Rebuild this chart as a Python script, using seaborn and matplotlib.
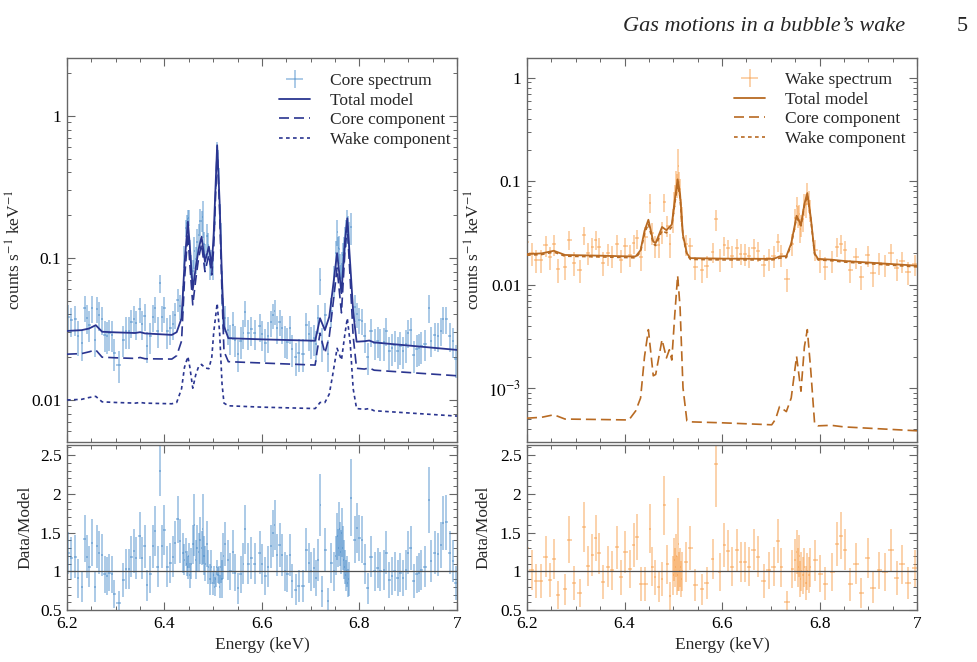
import numpy as np
import matplotlib
matplotlib.use("Agg")
import matplotlib.pyplot as plt
from matplotlib.lines import Line2D
from matplotlib.ticker import MultipleLocator, FixedLocator, FuncFormatter, LogLocator, NullFormatter
import seaborn as sns

# ---------------- Core (left) model curves ----------------
core_model_E = [6.200, 6.230, 6.245, 6.259, 6.272, 6.300, 6.340, 6.350, 6.360, 6.415,
                6.425, 6.435, 6.441, 6.448, 6.452, 6.458, 6.464, 6.470, 6.476, 6.483,
                6.491, 6.497, 6.501, 6.508, 6.513, 6.518, 6.522, 6.531, 6.600, 6.709,
                6.713, 6.719, 6.729, 6.738, 6.745, 6.754, 6.763, 6.770, 6.775, 6.781,
                6.787, 6.794, 6.810, 6.820, 6.830, 7.000]
core_total = [0.0306, 0.0310, 0.0318, 0.0336, 0.0302, 0.0299, 0.0296, 0.0300, 0.0294, 0.0287,
              0.0300, 0.0376, 0.0900, 0.180, 0.120, 0.0596, 0.085, 0.115, 0.141, 0.094,
              0.120, 0.087, 0.150, 0.620, 0.250, 0.070, 0.0330, 0.0272, 0.0267, 0.0261,
              0.0300, 0.0376, 0.0310, 0.0385, 0.060, 0.108, 0.0564, 0.130, 0.190, 0.090,
              0.0420, 0.0257, 0.0259, 0.0262, 0.0254, 0.0225]
core_corecomp = [0.0210, 0.0212, 0.0218, 0.0225, 0.0200, 0.0198, 0.0196, 0.0199, 0.0195, 0.0194,
                 0.0205, 0.0260, 0.070, 0.149, 0.090, 0.0467, 0.070, 0.100, 0.125, 0.080,
                 0.105, 0.076, 0.120, 0.570, 0.220, 0.055, 0.0220, 0.0186, 0.0182, 0.0176,
                 0.0220, 0.0295, 0.0213, 0.0280, 0.045, 0.085, 0.0410, 0.110, 0.168, 0.070,
                 0.0280, 0.0167, 0.0165, 0.0168, 0.0162, 0.0148]
core_wakecomp = [0.0100, 0.0101, 0.0104, 0.0106, 0.0097, 0.0096, 0.0095, 0.0096, 0.0095, 0.0094,
                 0.0096, 0.0120, 0.0170, 0.0202, 0.0170, 0.0121, 0.0150, 0.0172, 0.0178, 0.0168,
                 0.0166, 0.0200, 0.0300, 0.0478, 0.0300, 0.0130, 0.0095, 0.0091, 0.0089, 0.0087,
                 0.0090, 0.0096, 0.0096, 0.0110, 0.0150, 0.0231, 0.0191, 0.0290, 0.0376, 0.0250,
                 0.0120, 0.0087, 0.0086, 0.0087, 0.0084, 0.0077]

# ---------------- Core (left) spectrum data ----------------
core_E = [6.203, 6.209, 6.217, 6.222, 6.231, 6.236, 6.241, 6.246, 6.251, 6.257,
          6.261, 6.266, 6.272, 6.277, 6.282, 6.287, 6.292, 6.297, 6.306, 6.315,
          6.321, 6.327, 6.332, 6.337, 6.342, 6.349, 6.354, 6.359, 6.364, 6.371,
          6.376, 6.381, 6.386, 6.391, 6.395, 6.400, 6.406, 6.412, 6.417, 6.422,
          6.427, 6.432, 6.437, 6.441, 6.444, 6.446, 6.448, 6.450, 6.452, 6.455,
          6.458, 6.461, 6.464, 6.467, 6.470, 6.473, 6.476, 6.478, 6.481, 6.484,
          6.487, 6.490, 6.493, 6.496, 6.499, 6.501, 6.503, 6.505, 6.507, 6.509,
          6.511, 6.513, 6.515, 6.518, 6.521, 6.525, 6.530, 6.535, 6.540, 6.545,
          6.551, 6.556, 6.562, 6.566, 6.572, 6.578, 6.585, 6.595, 6.600, 6.607,
          6.612, 6.618, 6.623, 6.626, 6.631, 6.636, 6.641, 6.647, 6.652, 6.657,
          6.662, 6.669, 6.675, 6.684, 6.691, 6.696, 6.701, 6.706, 6.710, 6.715,
          6.720, 6.724, 6.730, 6.735, 6.742, 6.748, 6.751, 6.754, 6.756, 6.758,
          6.760, 6.762, 6.764, 6.766, 6.768, 6.770, 6.772, 6.774, 6.776, 6.778,
          6.782, 6.790, 6.795, 6.800, 6.805, 6.811, 6.817, 6.824, 6.831, 6.837,
          6.843, 6.850, 6.855, 6.861, 6.867, 6.872, 6.878, 6.884, 6.889, 6.895,
          6.900, 6.905, 6.911, 6.917, 6.922, 6.927, 6.934, 6.942, 6.947, 6.954,
          6.961, 6.967, 6.971, 6.978, 6.985, 6.992, 6.997]
core_spec = [0.0384, 0.0363, 0.0369, 0.0282, 0.0250, 0.0447, 0.0378, 0.0339, 0.0445, 0.0266,
             0.0440, 0.0397, 0.0369, 0.0288, 0.0282, 0.0294, 0.0288, 0.0213, 0.0176, 0.0265,
             0.0307, 0.0306, 0.0353, 0.0373, 0.0346, 0.0435, 0.0345, 0.0388, 0.0240, 0.0280,
             0.0384, 0.0441, 0.0307, 0.0665, 0.0381, 0.0441, 0.0305, 0.0319, 0.0342, 0.0397,
             0.0509, 0.0459, 0.0521, 0.1035, 0.1625, 0.176, 0.189, 0.192, 0.114, 0.088,
             0.081, 0.112, 0.098, 0.130, 0.144, 0.182, 0.182, 0.194, 0.126, 0.1045,
             0.142, 0.124, 0.090, 0.0945, 0.085, 0.152, 0.200, 0.342, 0.600, 0.520,
             0.380, 0.200, 0.147, 0.063, 0.042, 0.0378, 0.0313, 0.0272, 0.0339, 0.0266,
             0.0211, 0.0259, 0.0297, 0.0414, 0.0296, 0.0314, 0.0295, 0.0331, 0.0291, 0.0250,
             0.0282, 0.0351, 0.0396, 0.0424, 0.0321, 0.0355, 0.0321, 0.0264, 0.0256, 0.0319,
             0.0229, 0.0200, 0.0213, 0.0212, 0.0335, 0.0291, 0.0261, 0.0271, 0.0246, 0.0380,
             0.0696, 0.0252, 0.0397, 0.0211, 0.0422, 0.070, 0.108, 0.152, 0.117, 0.116,
             0.0878, 0.0725, 0.090, 0.104, 0.115, 0.1365, 0.152, 0.180, 0.1615, 0.144,
             0.166, 0.0451, 0.0401, 0.0368, 0.0362, 0.0280, 0.0200, 0.0305, 0.0253, 0.0262,
             0.0251, 0.0254, 0.0308, 0.0220, 0.0231, 0.0245, 0.0222, 0.0238, 0.0220, 0.0246,
             0.0298, 0.0311, 0.0207, 0.0228, 0.0231, 0.0240, 0.0248, 0.0447, 0.0262, 0.0286,
             0.0281, 0.0307, 0.0371, 0.0372, 0.0283, 0.0258, 0.0194]
core_ratio = [1.24, 1.17, 1.19, 0.91, 0.80, 1.42, 1.19, 1.06, 1.37, 0.80,
              1.32, 1.24, 1.21, 0.96, 0.94, 0.98, 0.96, 0.71, 0.59, 0.89,
              1.03, 1.03, 1.19, 1.26, 1.17, 1.46, 1.17, 1.32, 0.82, 0.96,
              1.32, 1.52, 1.06, 2.30, 1.32, 1.53, 1.06, 1.11, 1.19, 1.37,
              1.67, 1.39, 1.24, 1.15, 1.25, 1.10, 1.05, 1.20, 0.95, 1.10,
              1.35, 1.60, 1.15, 1.30, 1.25, 1.40, 1.30, 1.55, 1.20, 1.10,
              1.35, 1.05, 0.90, 1.05, 0.85, 0.95, 0.80, 0.90, 1.05, 0.95,
              0.95, 0.80, 1.05, 0.90, 1.20, 1.35, 1.15, 1.00, 1.25, 0.98,
              0.78, 0.96, 1.10, 1.54, 1.10, 1.17, 1.10, 1.24, 1.09, 0.94,
              1.06, 1.32, 1.49, 1.60, 1.21, 1.34, 1.21, 1.00, 0.97, 1.21,
              0.87, 0.76, 0.81, 0.81, 1.28, 1.11, 1.00, 1.04, 0.91, 1.15,
              1.85, 0.74, 1.28, 0.62, 1.11, 1.00, 1.20, 1.45, 1.30, 1.55,
              1.35, 1.25, 1.50, 1.30, 1.15, 1.05, 0.95, 1.00, 0.85, 0.90,
              1.95, 1.41, 1.56, 1.43, 1.41, 1.09, 0.78, 1.19, 1.00, 1.04,
              1.00, 1.02, 1.24, 0.89, 0.94, 1.00, 0.91, 0.98, 0.91, 1.02,
              1.24, 1.30, 0.87, 0.96, 0.98, 1.02, 1.06, 1.92, 1.13, 1.24,
              1.22, 1.34, 1.62, 1.63, 1.24, 1.13, 0.85]
core_ratio_err = [0.27, 0.27, 0.28, 0.25, 0.20, 0.30, 0.28, 0.26, 0.30, 0.20,
                  0.28, 0.28, 0.27, 0.24, 0.24, 0.24, 0.24, 0.18, 0.15, 0.22,
                  0.26, 0.26, 0.27, 0.28, 0.27, 0.30, 0.27, 0.28, 0.20, 0.24,
                  0.28, 0.32, 0.26, 0.33, 0.28, 0.32, 0.26, 0.26, 0.27, 0.28,
                  0.30, 0.28, 0.26, 0.20, 0.18, 0.16, 0.15, 0.16, 0.16, 0.20,
                  0.25, 0.40, 0.25, 0.30, 0.25, 0.30, 0.22, 0.45, 0.25, 0.22,
                  0.30, 0.22, 0.20, 0.22, 0.15, 0.12, 0.12, 0.10, 0.10, 0.10,
                  0.12, 0.15, 0.20, 0.25, 0.30, 0.28, 0.26, 0.24, 0.28, 0.24,
                  0.20, 0.24, 0.26, 0.32, 0.26, 0.27, 0.26, 0.28, 0.26, 0.24,
                  0.26, 0.28, 0.30, 0.32, 0.27, 0.28, 0.27, 0.25, 0.24, 0.27,
                  0.22, 0.20, 0.21, 0.21, 0.28, 0.26, 0.25, 0.26, 0.23, 0.27,
                  0.40, 0.20, 0.28, 0.16, 0.26, 0.25, 0.25, 0.30, 0.25, 0.35,
                  0.28, 0.28, 0.32, 0.28, 0.25, 0.22, 0.20, 0.20, 0.18, 0.22,
                  0.50, 0.30, 0.32, 0.30, 0.30, 0.26, 0.20, 0.27, 0.25, 0.26,
                  0.25, 0.26, 0.28, 0.23, 0.24, 0.25, 0.23, 0.25, 0.23, 0.26,
                  0.28, 0.29, 0.22, 0.24, 0.25, 0.26, 0.26, 0.42, 0.27, 0.28,
                  0.28, 0.30, 0.35, 0.35, 0.28, 0.27, 0.22]

# ---------------- Wake (right) model curves ----------------
wake_model_E = [6.200, 6.230, 6.255, 6.278, 6.350, 6.409, 6.423, 6.433, 6.441, 6.449,
                6.459, 6.464, 6.477, 6.486, 6.492, 6.497, 6.503, 6.509, 6.514, 6.520,
                6.528, 6.535, 6.600, 6.702, 6.710, 6.718, 6.732, 6.742, 6.753, 6.762,
                6.769, 6.775, 6.782, 6.790, 6.797, 6.824, 6.850, 7.000]
wake_total = [0.0197, 0.0200, 0.0212, 0.0193, 0.0190, 0.0187, 0.0187, 0.0215, 0.0330, 0.0423,
              0.0260, 0.0252, 0.0360, 0.0335, 0.0360, 0.0380, 0.0650, 0.1040, 0.0750, 0.0300,
              0.0200, 0.0180, 0.0178, 0.0177, 0.0180, 0.0187, 0.0188, 0.0250, 0.0462, 0.0378,
              0.0600, 0.0765, 0.0450, 0.0200, 0.0177, 0.0174, 0.0169, 0.0152]
wake_corecomp = [5.1e-4, 5.2e-4, 5.5e-4, 5.0e-4, 4.95e-4, 4.9e-4, 6.0e-4, 8.0e-4, 2.0e-3, 3.66e-3,
                 1.31e-3, 1.35e-3, 2.93e-3, 1.95e-3, 2.34e-3, 1.86e-3, 5.0e-3, 1.22e-2, 6.0e-3, 1.0e-3,
                 4.8e-4, 4.7e-4, 4.6e-4, 4.4e-4, 5.0e-4, 6.6e-4, 5.9e-4, 8.0e-4, 2.02e-3, 9.3e-4,
                 2.5e-3, 3.66e-3, 1.5e-3, 4.5e-4, 4.3e-4, 4.35e-4, 4.2e-4, 3.85e-4]
wake_wakecomp = [0.0192, 0.0195, 0.0206, 0.0188, 0.0185, 0.0182, 0.0181, 0.0207, 0.0310, 0.0387,
                 0.0247, 0.0238, 0.0331, 0.0316, 0.0337, 0.0361, 0.0600, 0.0918, 0.0690, 0.0290,
                 0.0195, 0.0175, 0.0173, 0.0173, 0.0175, 0.0180, 0.0182, 0.0242, 0.0442, 0.0369,
                 0.0575, 0.0728, 0.0435, 0.0196, 0.0173, 0.0170, 0.0165, 0.0148]

# ---------------- Wake (right) spectrum data ----------------
wake_E = [6.2006, 6.2095, 6.219, 6.229, 6.238, 6.247, 6.255, 6.264, 6.278, 6.287,
          6.296, 6.308, 6.317, 6.325, 6.334, 6.341, 6.348, 6.356, 6.367, 6.375,
          6.385, 6.393, 6.402, 6.411, 6.419, 6.426, 6.434, 6.443, 6.452, 6.457,
          6.462, 6.470, 6.477, 6.482, 6.488, 6.493, 6.500, 6.502, 6.504, 6.506,
          6.508, 6.510, 6.512, 6.514, 6.516, 6.518, 6.526, 6.535, 6.545, 6.559,
          6.569, 6.581, 6.588, 6.595, 6.605, 6.612, 6.621, 6.630, 6.638, 6.647,
          6.655, 6.665, 6.674, 6.686, 6.696, 6.706, 6.715, 6.722, 6.733, 6.744,
          6.750, 6.753, 6.756, 6.758, 6.761, 6.763, 6.766, 6.769, 6.772, 6.775,
          6.778, 6.781, 6.791, 6.802, 6.812, 6.826, 6.836, 6.844, 6.852, 6.863,
          6.875, 6.886, 6.899, 6.910, 6.923, 6.934, 6.946, 6.958, 6.970, 6.982,
          6.996]
wake_spec = [0.0257, 0.0202, 0.0174, 0.0174, 0.0239, 0.0185, 0.0245, 0.0141, 0.0149, 0.0271,
             0.0163, 0.0138, 0.0300, 0.0203, 0.0230, 0.0272, 0.0232, 0.0163, 0.0200, 0.0190,
             0.0246, 0.0173, 0.0234, 0.0193, 0.0251, 0.0281, 0.0185, 0.0286, 0.0620, 0.0318,
             0.0239, 0.0240, 0.0324, 0.0629, 0.0371, 0.0245, 0.0428, 0.0633, 0.0735, 0.102,
             0.0931, 0.140, 0.098, 0.084, 0.054, 0.045, 0.0246, 0.0234, 0.0148, 0.0139,
             0.0152, 0.0208, 0.0426, 0.0176, 0.0239, 0.0224, 0.0189, 0.0226, 0.0199, 0.0198,
             0.0188, 0.0227, 0.0211, 0.0156, 0.0179, 0.0189, 0.0257, 0.0196, 0.0112, 0.0247,
             0.0437, 0.0569, 0.0462, 0.048, 0.0342, 0.038, 0.0428, 0.0609, 0.0595, 0.0765,
             0.0646, 0.0525, 0.0217, 0.0171, 0.0147, 0.0171, 0.0231, 0.0248, 0.0216, 0.0139,
             0.0183, 0.0119, 0.0191, 0.0128, 0.0163, 0.0157, 0.0201, 0.0143, 0.0169, 0.0131,
             0.0158]
wake_ratio = [1.30, 1.02, 0.88, 0.88, 1.19, 0.89, 1.16, 0.69, 0.77, 1.41,
              0.85, 0.72, 1.57, 1.07, 1.21, 1.43, 1.23, 0.86, 1.06, 1.01,
              1.31, 0.92, 1.25, 1.03, 1.34, 1.44, 0.84, 0.84, 1.55, 1.06,
              0.92, 0.80, 0.90, 1.85, 1.09, 0.68, 0.95, 1.15, 1.05, 1.20,
              0.95, 1.35, 1.00, 1.05, 0.90, 1.00, 1.12, 1.30, 0.82, 0.77,
              0.85, 1.16, 2.38, 0.99, 1.34, 1.26, 1.06, 1.27, 1.12, 1.12,
              1.06, 1.28, 1.19, 0.88, 1.01, 1.06, 1.39, 1.05, 0.60, 1.03,
              1.15, 1.25, 1.05, 1.20, 0.90, 1.00, 0.95, 1.05, 0.85, 1.00,
              0.95, 1.05, 1.14, 0.97, 0.84, 0.99, 1.35, 1.46, 1.28, 0.83,
              1.10, 0.72, 1.17, 0.79, 1.01, 0.99, 1.27, 0.91, 1.09, 0.85,
              1.04]
wake_ratio_err = [0.45, 0.26, 0.22, 0.22, 0.27, 0.22, 0.26, 0.18, 0.20, 0.30,
                  0.22, 0.18, 0.32, 0.26, 0.27, 0.30, 0.27, 0.22, 0.26, 0.25,
                  0.28, 0.23, 0.27, 0.25, 0.28, 0.30, 0.22, 0.22, 0.32, 0.25,
                  0.22, 0.20, 0.22, 0.38, 0.25, 0.18, 0.25, 0.28, 0.25, 0.28,
                  0.25, 0.60, 0.25, 0.25, 0.23, 0.25, 0.26, 0.28, 0.21, 0.20,
                  0.21, 0.26, 0.55, 0.24, 0.28, 0.27, 0.25, 0.27, 0.26, 0.26,
                  0.25, 0.27, 0.26, 0.22, 0.24, 0.25, 0.28, 0.25, 0.15, 0.25,
                  0.27, 0.28, 0.25, 0.27, 0.23, 0.25, 0.24, 0.25, 0.22, 0.24,
                  0.23, 0.25, 0.26, 0.24, 0.21, 0.24, 0.28, 0.30, 0.27, 0.21,
                  0.26, 0.19, 0.26, 0.20, 0.24, 0.24, 0.27, 0.22, 0.25, 0.21,
                  0.24]

legend_labels_core = ["Core spectrum", "Total model", "Core component", "Wake component"]
legend_labels_wake = ["Wake spectrum", "Total model", "Core component", "Wake component"]
header_title = "Gas motions in a bubble\u2019s wake"
header_page = "5"

# ---------------- styling ----------------
sns.set_style("ticks")
plt.rcParams["font.family"] = ["Liberation Serif", "DejaVu Serif"]
plt.rcParams["mathtext.fontset"] = "stix"
plt.rcParams["axes.unicode_minus"] = True

FRAME = "#666666"
BLUE_DATA = "#3f86c8"
NAVY = "#2a3590"
ORANGE_DATA = "#f7983e"
BROWN = "#b86a22"
FS = 12.5

W, H = 978, 662
fig = plt.figure(figsize=(W / 100, H / 100), dpi=100)


def axes_px(x0, x1, y0, y1):
    return fig.add_axes([x0 / W, 1 - y1 / H, (x1 - x0) / W, (y1 - y0) / H])


axL = axes_px(67, 457, 58, 442)
axLr = axes_px(67, 457, 445, 610)
axR = axes_px(527, 917, 58, 442)
axRr = axes_px(527, 917, 445, 610)


def style(ax):
    for s in ax.spines.values():
        s.set_color(FRAME)
        s.set_linewidth(1.0)
    ax.tick_params(which="both", direction="in", top=True, right=True,
                   color=FRAME, labelsize=FS, labelcolor="black", pad=4)
    ax.tick_params(which="major", length=6, width=0.8)
    ax.tick_params(which="minor", length=3, width=0.7)
    ax.set_xlim(6.2, 7.0)
    ax.xaxis.set_major_locator(MultipleLocator(0.2))
    ax.xaxis.set_minor_locator(MultipleLocator(0.05))
    ax.xaxis.set_major_formatter(FuncFormatter(lambda v, p: f"{round(v, 2):g}"))


def half_widths(E):
    E = np.asarray(E)
    d = np.diff(E)
    return np.minimum(np.r_[d[0], d], np.r_[d, d[-1]]) / 2.0


def spectrum_panel(ax, axr, mE, tot, cc, wc, E, spec, ratio, rerr, dcol, mcol, labels, anchor):
    E = np.asarray(E)
    spec = np.asarray(spec)
    ratio = np.asarray(ratio)
    rerr = np.asarray(rerr)
    xw = half_widths(E)
    spec_err = spec * rerr / ratio
    eb = ax.errorbar(E, spec, yerr=spec_err, xerr=xw, fmt="none", ecolor=dcol,
                     elinewidth=1.1, alpha=0.55, zorder=2)
    sns.lineplot(x=mE, y=tot, ax=ax, color=mcol, lw=1.3, estimator=None, sort=False, zorder=4)
    sns.lineplot(x=mE, y=cc, ax=ax, color=mcol, lw=1.2, estimator=None, sort=False,
                 linestyle=(0, (6, 3)), zorder=4)
    sns.lineplot(x=mE, y=wc, ax=ax, color=mcol, lw=1.2, estimator=None, sort=False,
                 linestyle=(0, (2.2, 2.0)), zorder=4)
    ax.set_yscale("log")
    handles = [eb,
               Line2D([], [], color=mcol, lw=1.3),
               Line2D([], [], color=mcol, lw=1.2, linestyle=(0, (6, 3))),
               Line2D([], [], color=mcol, lw=1.2, linestyle=(0, (2.2, 2.0)))]
    ax.legend(handles, labels, loc="upper right", bbox_to_anchor=anchor,
              frameon=False, fontsize=FS, handlelength=1.75, handletextpad=1.15,
              labelspacing=0.2, borderaxespad=0.0)
    ax.set_ylabel("counts s$^{-1}$ keV$^{-1}$", fontsize=FS)
    ax.set_xlabel("")
    style(ax)
    ax.tick_params(labelbottom=False)
    ax.yaxis.set_minor_locator(LogLocator(base=10, subs=np.arange(2, 10), numticks=20))
    ax.yaxis.set_minor_formatter(NullFormatter())

    axr.errorbar(E, ratio, yerr=rerr, xerr=xw, fmt="none", ecolor=dcol,
                 elinewidth=1.1, alpha=0.55, zorder=2)
    axr.axhline(1.0, color="#505050", lw=0.9, zorder=3)
    style(axr)
    axr.set_ylim(0.5, 2.63)
    axr.yaxis.set_major_locator(FixedLocator([0.5, 1, 1.5, 2, 2.5]))
    axr.yaxis.set_minor_locator(MultipleLocator(0.1))
    axr.yaxis.set_major_formatter(FuncFormatter(lambda v, p: f"{v:g}"))
    axr.set_xlabel("Energy (keV)", fontsize=FS, labelpad=4)
    axr.set_ylabel("Data/Model", fontsize=FS)


spectrum_panel(axL, axLr, core_model_E, core_total, core_corecomp, core_wakecomp,
               core_E, core_spec, core_ratio, core_ratio_err, BLUE_DATA, NAVY,
               legend_labels_core, (1.001, 0.979))
spectrum_panel(axR, axRr, wake_model_E, wake_total, wake_corecomp, wake_wakecomp,
               wake_E, wake_spec, wake_ratio, wake_ratio_err, ORANGE_DATA, BROWN,
               legend_labels_wake, (0.988, 0.982))

axL.set_ylim(0.00506, 2.55)
axL.yaxis.set_major_locator(FixedLocator([0.01, 0.1, 1]))
axL.yaxis.set_major_formatter(FuncFormatter(lambda v, p: {0.01: "0.01", 0.1: "0.1", 1: "1"}.get(round(v, 4), "")))

axR.set_ylim(3.0e-4, 1.55)
axR.yaxis.set_major_locator(FixedLocator([1e-3, 0.01, 0.1, 1]))
axR.yaxis.set_major_formatter(FuncFormatter(
    lambda v, p: {0.001: "$10^{-3}$", 0.01: "0.01", 0.1: "0.1", 1: "1"}.get(round(v, 5), "")))

axL.yaxis.set_label_coords(-0.108, 0.5)
axLr.yaxis.set_label_coords(-0.087, 0.5)
axR.yaxis.set_label_coords(-0.110, 0.5)
axRr.yaxis.set_label_coords(-0.090, 0.5)

fig.text(623 / W, 1 - 31 / H, header_title, fontsize=16, style="italic",
         ha="left", va="baseline")
fig.text(968 / W, 1 - 31 / H, header_page, fontsize=16, ha="right", va="baseline")

fig.savefig("out.png", dpi=100)
